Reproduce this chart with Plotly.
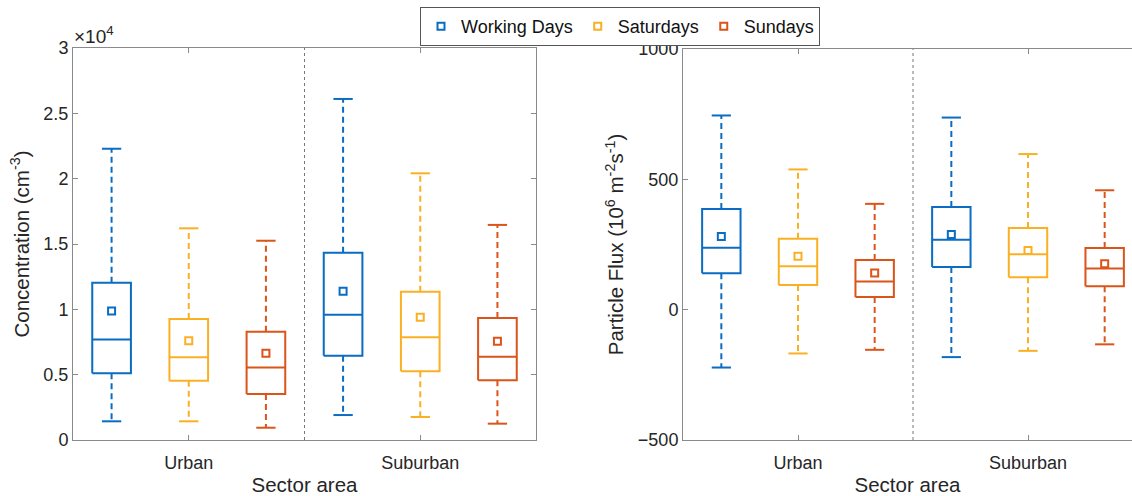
import plotly.graph_objects as go

# ---------------- data ----------------
categories = ["Urban", "Suburban"]
series = ["Working Days", "Saturdays", "Sundays"]
colors = ["#0A6CC2", "#FBB024", "#DB541A"]

# Concentration (cm^-3), per series: [Urban, Suburban]
conc_lower = {"Working Days": [1430, 1910], "Saturdays": [1430, 1760], "Sundays": [940, 1250]}
conc_q1 = {"Working Days": [5100, 6450], "Saturdays": [4540, 5260], "Sundays": [3520, 4570]}
conc_median = {"Working Days": [7700, 9590], "Saturdays": [6330, 7860], "Sundays": [5540, 6380]}
conc_q3 = {"Working Days": [12040, 14330], "Saturdays": [9260, 11350], "Sundays": [8290, 9340]}
conc_upper = {"Working Days": [22290, 26100], "Saturdays": [16200, 20410], "Sundays": [15250, 16460]}
conc_mean = {"Working Days": [9870, 11380], "Saturdays": [7600, 9390], "Sundays": [6630, 7550]}

# Particle flux (10^6 m^-2 s^-1)
flux_lower = {"Working Days": [-222, -182], "Saturdays": [-168, -158], "Sundays": [-154, -133]}
flux_q1 = {"Working Days": [140, 164], "Saturdays": [95, 124], "Sundays": [49, 90]}
flux_median = {"Working Days": [238, 268], "Saturdays": [167, 213], "Sundays": [108, 158]}
flux_q3 = {"Working Days": [386, 394], "Saturdays": [272, 313], "Sundays": [191, 237]}
flux_upper = {"Working Days": [745, 737], "Saturdays": [538, 597], "Sundays": [406, 458]}
flux_mean = {"Working Days": [281, 288], "Saturdays": [205, 227], "Sundays": [141, 176]}

conc_ticks = [0, 5000, 10000, 15000, 20000, 25000, 30000]
conc_ticktext = ["0", "0.5", "1", "1.5", "2", "2.5", "3"]
flux_ticks = [-500, 0, 500, 1000]

# ---------------- styling ----------------
FONT = "Liberation Sans, Arial, sans-serif"
AXCOL = "#8a8a8a"
TXT = "#262626"
offsets = [-1 / 3, 0, 1 / 3]
box_w = 0.167
cap_w = box_w / 2

fig = go.Figure()


def add_boxes(lower, q1, med, q3, upper, mean, xa, ya, showlegend):
    for si, s in enumerate(series):
        col = colors[si]
        xs_solid, ys_solid, xs_dash, ys_dash, xm, ym = [], [], [], [], [], []
        for ci in range(len(categories)):
            c = ci + 1 + offsets[si]
            l, r = c - box_w / 2, c + box_w / 2
            xs_solid += [l, r, r, l, l, None]
            ys_solid += [q1[s][ci], q1[s][ci], q3[s][ci], q3[s][ci], q1[s][ci], None]
            xs_solid += [l, r, None]
            ys_solid += [med[s][ci], med[s][ci], None]
            xs_solid += [c - cap_w / 2, c + cap_w / 2, None, c - cap_w / 2, c + cap_w / 2, None]
            ys_solid += [upper[s][ci], upper[s][ci], None, lower[s][ci], lower[s][ci], None]
            xs_dash += [c, c, None, c, c, None]
            ys_dash += [q3[s][ci], upper[s][ci], None, q1[s][ci], lower[s][ci], None]
            xm.append(c)
            ym.append(mean[s][ci])
        fig.add_trace(go.Scatter(x=xs_dash, y=ys_dash, mode="lines", xaxis=xa, yaxis=ya,
                                 line=dict(color=col, width=2, dash="6px,4px"),
                                 showlegend=False, hoverinfo="skip"))
        fig.add_trace(go.Scatter(x=xs_solid, y=ys_solid, mode="lines", xaxis=xa, yaxis=ya,
                                 line=dict(color=col, width=2),
                                 showlegend=False, hoverinfo="skip"))
        fig.add_trace(go.Scatter(x=xm, y=ym, mode="markers", xaxis=xa, yaxis=ya, name=s,
                                 marker=dict(symbol="square-open", size=7, color=col,
                                             line=dict(width=2, color=col)),
                                 showlegend=showlegend))


add_boxes(conc_lower, conc_q1, conc_median, conc_q3, conc_upper, conc_mean, "x", "y", True)
add_boxes(flux_lower, flux_q1, flux_median, flux_q3, flux_upper, flux_mean, "x2", "y2", False)

W, H = 1132, 496
TOP, BOT = 48, 440
PH = BOT - TOP
left_dom = [73 / W, 536 / W]
right_dom = [683 / W, 1.0]

common_x = dict(tickmode="array", tickvals=[1, 2], ticktext=categories,
                ticks="inside", ticklen=5, tickcolor=AXCOL, showgrid=False, zeroline=False,
                showline=True, linecolor=AXCOL, linewidth=1, ticklabelstandoff=6,
                tickfont=dict(family=FONT, size=18, color=TXT),
                title=dict(text="Sector area", font=dict(family=FONT, size=20.5, color=TXT),
                           standoff=6))

common_y = dict(ticks="inside", ticklen=5, tickcolor=AXCOL, showgrid=False, zeroline=False,
                showline=True, linecolor=AXCOL, linewidth=1,
                tickfont=dict(family=FONT, size=18, color=TXT))

fig.update_layout(
    width=W, height=H,
    margin=dict(l=0, r=0, t=TOP, b=H - BOT, autoexpand=False),
    paper_bgcolor="white", plot_bgcolor="white",
    font=dict(family=FONT, color=TXT),
    xaxis=dict(domain=left_dom, range=[0.5, 2.5], mirror="ticks", anchor="y", **common_x),
    yaxis=dict(domain=[0, 1], range=[0, 30000], tickmode="array", tickvals=conc_ticks,
               ticktext=conc_ticktext, mirror="ticks", anchor="x",
               title=dict(text="Concentration (cm<sup>-3</sup>)",
                          font=dict(family=FONT, size=20.5, color=TXT), standoff=8),
               **common_y),
    xaxis2=dict(domain=right_dom, range=[0.5, 0.5 + (W - 683) / 230], mirror="ticks",
                anchor="y2", **common_x),
    yaxis2=dict(domain=[0, 1 - 1 / PH], range=[-500, 1000], tickmode="array", tickvals=flux_ticks,
                mirror=False, anchor="x2",
                title=dict(text="Particle Flux (10<sup>6</sup> m<sup>-2</sup>s<sup>-1</sup>)",
                           font=dict(family=FONT, size=20.5, color=TXT), standoff=8),
                **common_y),
    legend=dict(orientation="h", x=620 / W, xanchor="center", y=(BOT - 7) / PH, yanchor="top",
                bordercolor="#555555", borderwidth=1, bgcolor="white",
                font=dict(family=FONT, size=18, color="#111111"),
                itemwidth=30, tracegroupgap=0),
    shapes=[
        dict(type="line", xref="x", yref="y domain", x0=1.5, x1=1.5, y0=0, y1=1,
             line=dict(color="#777777", width=1, dash="dot")),
        dict(type="line", xref="x2", yref="y2 domain", x0=1.5, x1=1.5, y0=0, y1=1,
             line=dict(color="#777777", width=1, dash="dot")),
    ],
    annotations=[
        dict(text="\u00d710<sup>4</sup>", xref="paper", yref="paper", x=72 / W,
             y=(BOT - 49) / PH, xanchor="left", yanchor="bottom", showarrow=False,
             font=dict(family=FONT, size=19, color=TXT)),
    ],
)

fig.write_html("out.html")
